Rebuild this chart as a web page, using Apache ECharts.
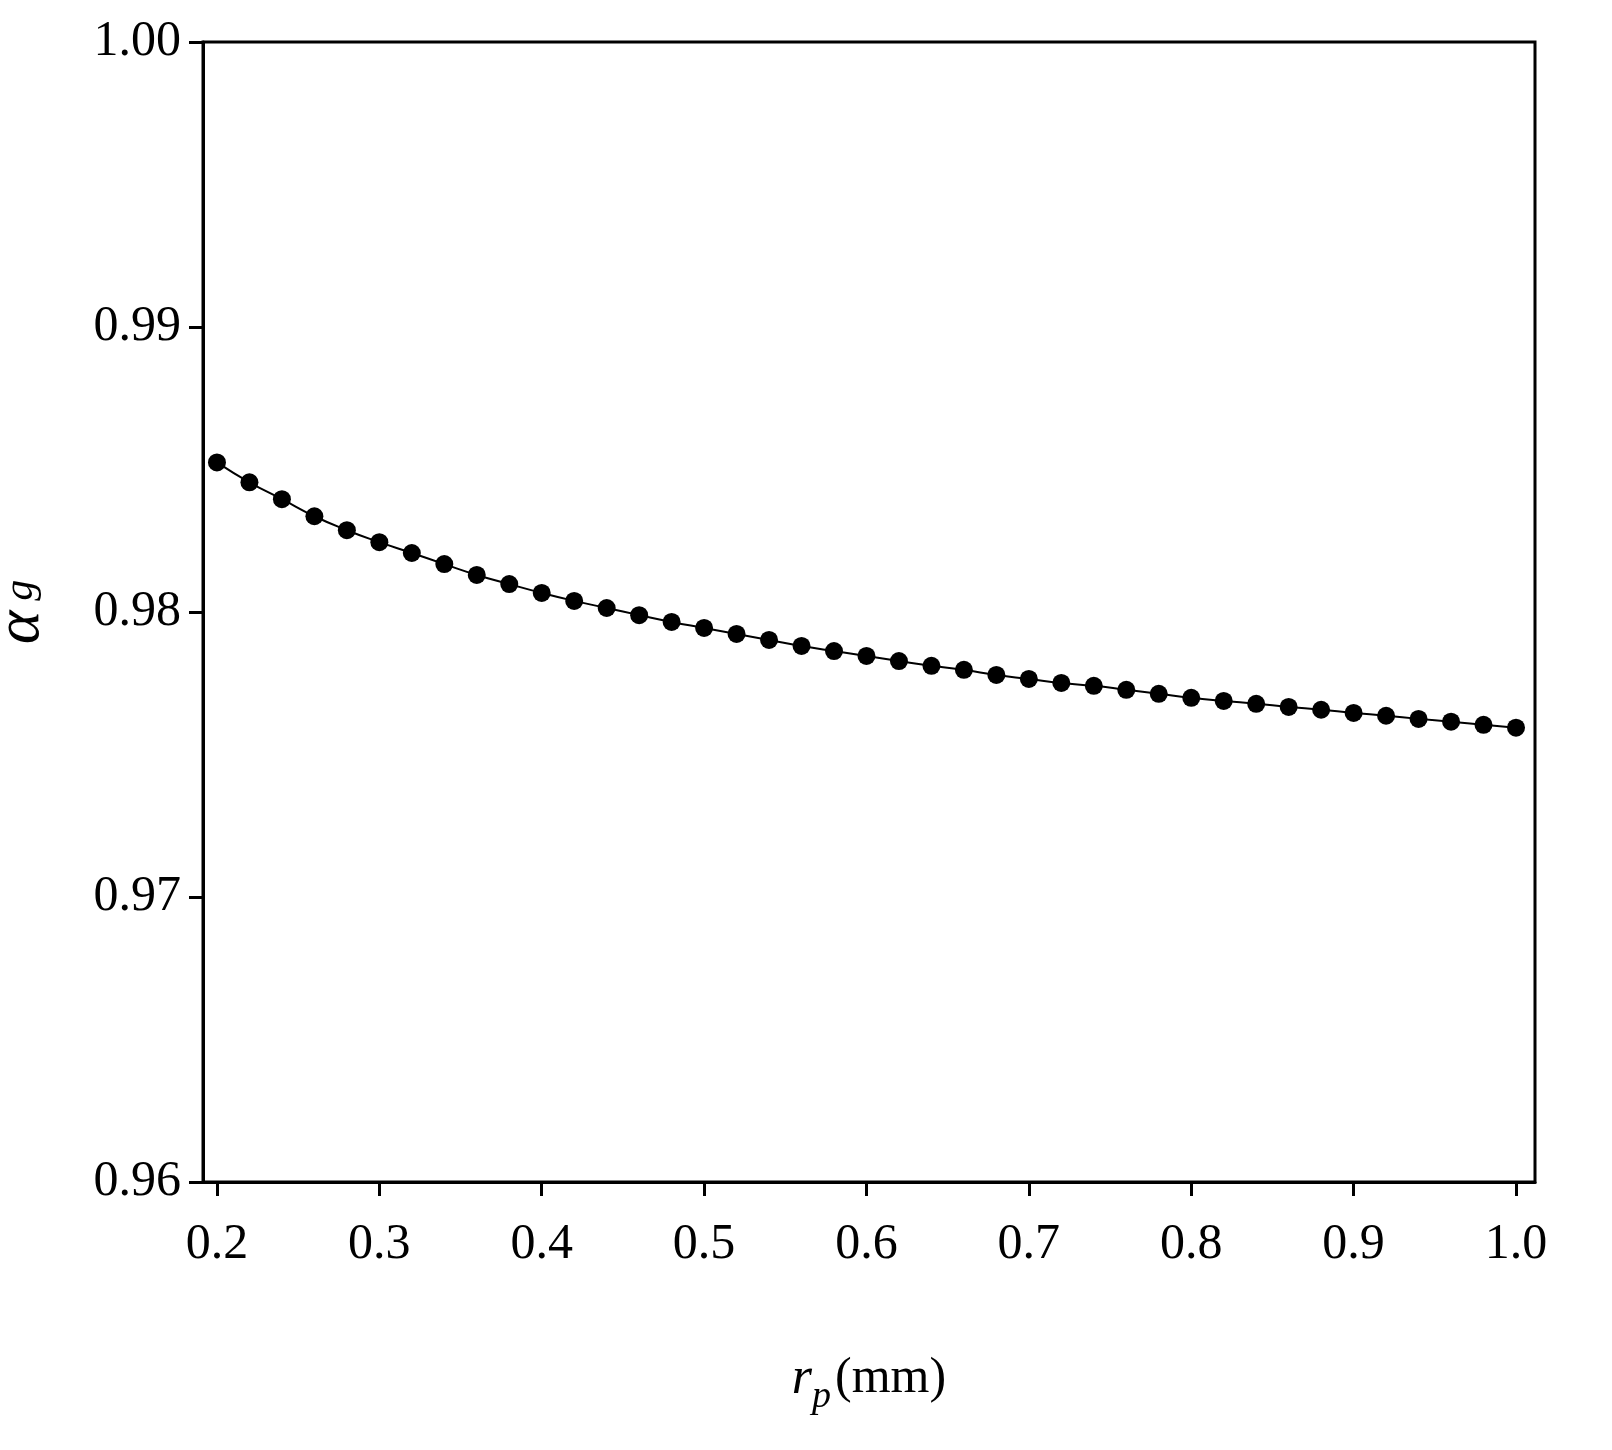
<!DOCTYPE html>
<html>
<head>
<meta charset="utf-8">
<script src="https://cdn.jsdelivr.net/npm/echarts@6/dist/echarts.min.js"></script>
<style>html,body{margin:0;padding:0;background:#fff}</style>
</head>
<body>
<div id="container" style="width:1612px;height:1450px"></div>
<script>
var rp = [0.20,0.22,0.24,0.26,0.28,0.30,0.32,0.34,0.36,0.38,0.40,0.42,0.44,0.46,0.48,0.50,0.52,0.54,0.56,0.58,0.60,
          0.62,0.64,0.66,0.68,0.70,0.72,0.74,0.76,0.78,0.80,0.82,0.84,0.86,0.88,0.90,0.92,0.94,0.96,0.98,1.00];
var alphaG = [0.98525,0.98455,0.98396,0.98336,0.98287,0.98245,0.98207,0.98168,0.98130,0.98098,0.98067,
              0.98039,0.98014,0.97989,0.97965,0.97944,0.97923,0.97902,0.97881,0.97863,0.97846,
              0.97828,0.97811,0.97797,0.97779,0.97765,0.97751,0.97741,0.97727,0.97713,0.97699,
              0.97688,0.97678,0.97667,0.97657,0.97646,0.97636,0.97625,0.97615,0.97604,0.97594];
var xTicks = [0.2,0.3,0.4,0.5,0.6,0.7,0.8,0.9,1.0];

var chart = echarts.init(document.getElementById('container'));
var font = 'Liberation Serif';
var data = rp.map(function (x, i) { return [x, alphaG[i]]; });

var option = {
    animation: false,
    grid: {
        left: 203, top: 42, width: 1332, height: 1140,
        outerBoundsMode: 'none',
        containLabel: false,
        show: true, borderColor: '#000', borderWidth: 3
    },
    xAxis: {
        type: 'value',
        min: 0.1914, max: 1.0117,
        name: '{i|r}{s|p}{n|(mm)}',
        nameLocation: 'middle',
        nameGap: 160,
        nameTextStyle: {
            rich: {
                i: {fontFamily: font, fontStyle: 'italic', fontSize: 52, color: '#000'},
                s: {fontFamily: font, fontStyle: 'italic', fontSize: 38, color: '#000', padding: [36, 4, 0, 0]},
                n: {fontFamily: font, fontSize: 50, color: '#000'}
            }
        },
        splitLine: {show: false},
        axisLine: {lineStyle: {color: '#000', width: 3}},
        axisTick: {length: 14, lineStyle: {width: 3, color: '#000'}, customValues: xTicks},
        axisLabel: {
            customValues: xTicks,
            fontFamily: font, fontSize: 50, color: '#000', margin: 38,
            formatter: function (v) { return v.toFixed(1); }
        }
    },
    yAxis: {
        type: 'value',
        min: 0.96, max: 1.00, interval: 0.01,
        name: '{i|α}{s|g}',
        nameLocation: 'middle',
        nameGap: 150,
        nameRotate: 90,
        nameTextStyle: {
            rich: {
                i: {fontFamily: font, fontStyle: 'italic', fontSize: 64, color: '#000'},
                s: {fontFamily: font, fontStyle: 'italic', fontSize: 42, color: '#000', padding: [0, 0, 0, 10]}
            }
        },
        splitLine: {show: false},
        axisLine: {lineStyle: {color: '#000', width: 3}},
        axisTick: {length: 14, lineStyle: {width: 3, color: '#000'}},
        axisLabel: {
            fontFamily: font, fontSize: 50, color: '#000', margin: 22,
            formatter: function (v) { return v.toFixed(2); }
        }
    },
    series: [{
        type: 'line',
        smooth: true,
        data: data,
        symbol: 'circle',
        symbolSize: 18,
        itemStyle: {color: '#000'},
        lineStyle: {color: '#000', width: 2}
    }]
};
chart.setOption(option);
</script>
</body>
</html>
